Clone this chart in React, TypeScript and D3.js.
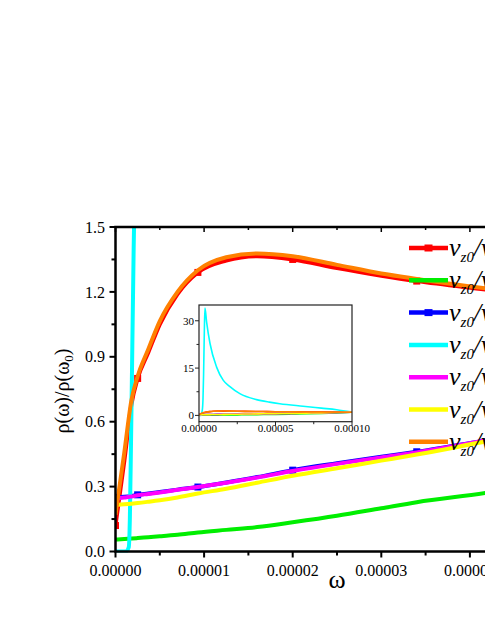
import React from 'react';
import * as d3 from 'd3';

const width = 485;
const height = 627;

// frequency grid shared by the smooth curves (rad/s)
const omega = [0, 1e-6, 1.8e-6, 2.5e-6, 3.7e-6, 5e-6, 7e-6, 9.3e-6, 1.25e-5, 1.6e-5, 2e-5,
  2.5e-5, 3e-5, 3.4e-5, 4.2e-5, 5e-5, 6e-5, 7e-5, 8e-5, 9e-5, 1e-4];

const rhoRed = [0.12, 0.42, 0.68, 0.80, 0.92, 1.05, 1.19, 1.29, 1.345, 1.365, 1.35,
  1.31, 1.275, 1.25, 1.21, 1.17, 1.13, 1.09, 1.06, 1.03, 1.0];
const rhoGreen = [0.055, 0.058, 0.06, 0.062, 0.066, 0.07, 0.077, 0.088, 0.1, 0.113, 0.135,
  0.165, 0.2, 0.228, 0.272, 0.33, 0.42, 0.52, 0.65, 0.81, 1.0];
const rhoBlue = [0.25, 0.253, 0.257, 0.262, 0.268, 0.275, 0.286, 0.298, 0.319, 0.344, 0.376,
  0.408, 0.438, 0.461, 0.515, 0.57, 0.64, 0.72, 0.80, 0.895, 1.0];
const rhoMagenta = [0.245, 0.25, 0.254, 0.26, 0.266, 0.273, 0.285, 0.298, 0.318, 0.342, 0.372,
  0.405, 0.435, 0.458, 0.515, 0.57, 0.64, 0.72, 0.80, 0.895, 1.0];
const rhoYellow = [0.215, 0.218, 0.221, 0.224, 0.23, 0.237, 0.25, 0.268, 0.29, 0.318, 0.35,
  0.385, 0.42, 0.448, 0.51, 0.568, 0.64, 0.72, 0.80, 0.895, 1.0];
const rhoOrange = [0.17, 0.46, 0.70, 0.81, 0.935, 1.065, 1.20, 1.30, 1.36, 1.378, 1.365,
  1.325, 1.285, 1.26, 1.215, 1.175, 1.135, 1.095, 1.06, 1.03, 1.0];

// cyan needs its own, denser grid near the spike
const omegaCyan = [0, 1.2e-6, 1.5e-6, 1.62e-6, 1.75e-6, 1.9e-6, 2.05e-6, 2.2e-6, 2.6e-6, 3e-6, 3.5e-6,
  3.9e-6, 5e-6, 7.2e-6, 1.15e-5, 1.59e-5, 2e-5, 2.67e-5, 3.76e-5, 4.6e-5, 5.28e-5, 6.8e-5,
  8e-5, 9e-5, 1e-4];
const rhoCyan = [0, 0, 0.02, 0.15, 0.5, 0.95, 1.4, 1.8, 5, 13, 27,
  34, 29.5, 22.8, 15.3, 11.1, 9.2, 6.9, 5.0, 4.2, 3.7, 2.9,
  2.3, 1.8, 1.05];

// indices of omega[] carrying symbols
const markIdx = [0, 3, 7, 10, 13, 15, 17, 20];

const series = [
  { color: '#ff0000', x: omega, y: rhoRed, marks: true },
  { color: '#00ee00', x: omega, y: rhoGreen, marks: false },
  { color: '#0000ff', x: omega, y: rhoBlue, marks: true },
  { color: '#00ffff', x: omegaCyan, y: rhoCyan, marks: false },
  { color: '#ff00ff', x: omega, y: rhoMagenta, marks: false },
  { color: '#ffff00', x: omega, y: rhoYellow, marks: false },
  { color: '#ff8000', x: omega, y: rhoOrange, marks: false },
];

const font = 'Liberation Serif';

// main panel
const x = d3.scaleLinear().domain([0, 5e-5]).range([115.5, 558.5]);
const y = d3.scaleLinear().domain([0, 1.5]).range([551.5, 227]);
// inset
const xi = d3.scaleLinear().domain([0, 1e-4]).range([199, 352]);
const yi = d3.scaleLinear().domain([-2, 35]).range([421.7, 305]);

const xMajor = d3.range(0, 5.01e-5, 1e-5);
const xMinor = d3.range(0.5e-5, 5e-5, 1e-5);
const yMajor = d3.range(0, 1.51, 0.3);
const yMinor = d3.range(0.15, 1.5, 0.3);

const App = () => {
  const mainLine = (s) => d3.line().curve(d3.curveMonotoneX)
    .x((d, i) => x(s.x[i])).y((d) => y(d))(s.y);
  const insetLine = (s) => d3.line().curve(d3.curveMonotoneX)
    .x((d, i) => xi(s.x[i])).y((d) => yi(d))(s.y);

  const [x0, x1] = x.range();
  const [y0, y1] = y.range();
  const [ix0, ix1] = xi.range();
  const [iy0, iy1] = yi.range();

  return (
    <svg width={width} height={height}
      style={{ position: 'absolute', left: 0, top: 0 }}>
      <rect width={width} height={height} fill="#fff" />
      <defs>
        <clipPath id="mainClip">
          <rect x={x0} y={y1} width={x1 - x0} height={y0 - y1 + 1} />
        </clipPath>
        <clipPath id="insetClip">
          <rect x={ix0} y={iy1} width={ix1 - ix0} height={iy0 - iy1} />
        </clipPath>
      </defs>

      {/* main curves */}
      <g clipPath="url(#mainClip)">
        {series.map((s, k) => (
          <g key={k}>
            <path d={mainLine(s)} fill="none" stroke={s.color} strokeWidth={4} />
            {s.marks && markIdx.map((i) => (
              <rect key={i} x={x(s.x[i]) - 3.5} y={y(s.y[i]) - 3.5} width={7} height={7}
                fill={s.color} />
            ))}
          </g>
        ))}
      </g>

      {/* main frame */}
      <rect x={x0} y={y1} width={x1 - x0} height={y0 - y1} fill="none" stroke="#000"
        strokeWidth={2.5} />
      {xMajor.map((t) => (
        <g key={'xM' + t}>
          <line x1={x(t)} x2={x(t)} y1={y0} y2={y0 + 6} stroke="#000" strokeWidth={2} />
          <line x1={x(t)} x2={x(t)} y1={y1} y2={y1 + 5} stroke="#000" strokeWidth={1.5} />
          <text x={x(t)} y={576} fontFamily={font} fontSize={16} textAnchor="middle">
            {d3.format('.5f')(t)}
          </text>
        </g>
      ))}
      {xMinor.map((t) => (
        <g key={'xm' + t}>
          <line x1={x(t)} x2={x(t)} y1={y0} y2={y0 + 4} stroke="#000" strokeWidth={2} />
          <line x1={x(t)} x2={x(t)} y1={y1} y2={y1 + 3} stroke="#000" strokeWidth={1.5} />
        </g>
      ))}
      {yMajor.map((t) => (
        <g key={'yM' + t}>
          <line x1={x0 - 6} x2={x0} y1={y(t)} y2={y(t)} stroke="#000" strokeWidth={2} />
          <text x={105} y={y(t)} dy="0.35em" fontFamily={font} fontSize={16} textAnchor="end">
            {d3.format('.1f')(t)}
          </text>
        </g>
      ))}
      {yMinor.map((t) => (
        <line key={'ym' + t} x1={x0 - 4} x2={x0} y1={y(t)} y2={y(t)} stroke="#000"
          strokeWidth={2} />
      ))}

      {/* axis titles */}
      <text x={337} y={588} fontFamily={font} fontSize={26} textAnchor="middle">ω</text>
      <text transform="translate(69,391) rotate(-90)" fontFamily={font} fontSize={20}
        textAnchor="middle">
        ρ(ω)/ρ(ω<tspan fontSize={13} dy={4}>0</tspan><tspan dy={-4}>)</tspan>
      </text>

      {/* inset */}
      <rect x={ix0} y={iy1} width={ix1 - ix0} height={iy0 - iy1} fill="#fff" />
      <g clipPath="url(#insetClip)">
        {series.map((s, k) => (
          <path key={k} d={insetLine(s)} fill="none" stroke={s.color} strokeWidth={1.6} />
        ))}
      </g>
      <rect x={ix0} y={iy1} width={ix1 - ix0} height={iy0 - iy1} fill="none" stroke="#222"
        strokeWidth={1.2} />
      {[0, 5e-5, 1e-4].map((t) => (
        <g key={'ixM' + t}>
          <line x1={xi(t)} x2={xi(t)} y1={iy0} y2={iy0 + 4} stroke="#222" />
          <text x={xi(t)} y={431.5} fontFamily={font} fontSize={11} textAnchor="middle">
            {d3.format('.5f')(t)}
          </text>
        </g>
      ))}
      {[2.5e-5, 7.5e-5].map((t) => (
        <line key={'ixm' + t} x1={xi(t)} x2={xi(t)} y1={iy0} y2={iy0 + 2.5} stroke="#222" />
      ))}
      {[0, 15, 30].map((t) => (
        <g key={'iyM' + t}>
          <line x1={ix0 - 4} x2={ix0} y1={yi(t)} y2={yi(t)} stroke="#222" />
          <text x={ix0 - 5} y={yi(t)} dy="0.35em" fontFamily={font} fontSize={11}
            textAnchor="end">{t}</text>
        </g>
      ))}
      {[7.5, 22.5].map((t) => (
        <line key={'iym' + t} x1={ix0 - 2.5} x2={ix0} y1={yi(t)} y2={yi(t)} stroke="#222" />
      ))}

      {/* legend */}
      {series.map((s, k) => {
        const ry = 248 + k * 32.3;
        return (
          <g key={'lg' + k}>
            <line x1={409} x2={448} y1={ry} y2={ry} stroke={s.color} strokeWidth={4.5} />
            {s.marks && <rect x={424.5} y={ry - 3.5} width={8} height={7} fill={s.color} />}
            <text x={449} y={ry + 8} fontFamily={font} fontSize={26} fontStyle="italic">
              v<tspan fontSize={15} dy={6}>z0</tspan><tspan dy={-6}>/v</tspan>
            </text>
          </g>
        );
      })}
    </svg>
  );
};

export default App;
